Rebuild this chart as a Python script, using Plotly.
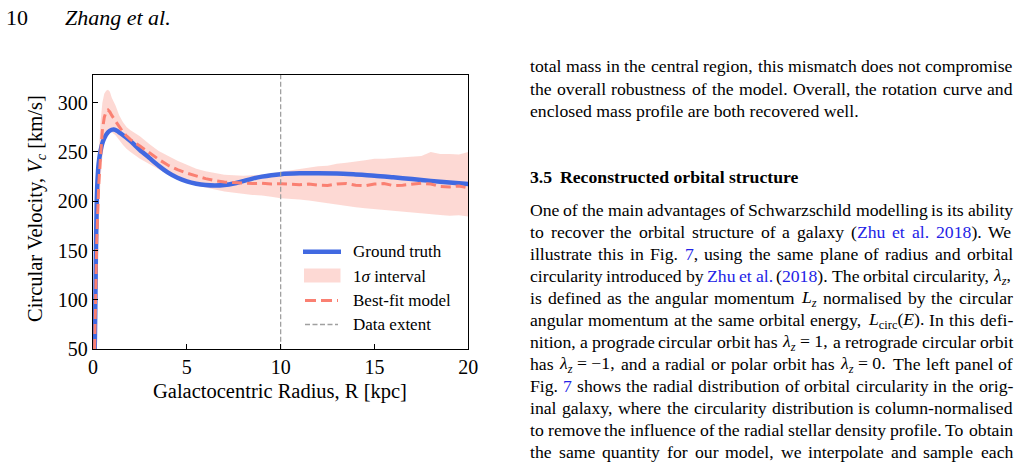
import re
import plotly.graph_objects as go

# ---------------- data ----------------
R_truth = [0.0, 0.05, 0.1, 0.15, 0.2, 0.25, 0.3, 0.4, 0.5, 0.6, 0.8, 1.0, 1.1, 1.2, 1.5,
           2.0, 2.5, 3.0, 3.5, 4.0, 4.5, 5.0, 5.5, 6.0, 6.5, 7.0, 7.5, 8.0, 8.5, 9.0, 9.5,
           10.0, 11.0, 12.0, 13.0, 14.0, 15.0, 16.0, 17.0, 18.0, 19.0, 20.0]
V_truth = [0, 30, 60, 140, 200, 225, 238, 251, 259, 264, 270, 272.5, 272.8, 272.3, 268.5,
           261, 252, 244, 236, 229, 223.8, 220.2, 217.8, 216.4, 215.9, 216.4, 218, 220.5, 223,
           225, 226.5, 227.5, 228.3, 228.5, 228.2, 227.2, 226, 224.3, 222.5, 220.7, 219, 217.5]

R_fit = [0.05, 0.1, 0.15, 0.2, 0.3, 0.4, 0.5, 0.6, 0.7, 0.8, 0.9, 1.0, 1.2, 1.4, 1.6, 1.8,
         2.0, 2.5, 3.0, 3.5, 4.0, 4.5, 5.0, 5.5, 6.0, 6.5, 7.0, 7.5, 8.0, 8.5, 9.0, 9.5,
         10.0, 10.5, 11.0, 11.5, 12.0, 12.5, 13.0, 13.5, 14.0, 14.5, 15.0, 15.5, 16.0, 16.5,
         17.0, 17.5, 18.0, 18.5, 19.0, 19.5, 20.0]
V_fit = [20, 55, 110, 160, 215, 245, 272, 285, 291, 292.5, 290.5, 287, 281, 275, 270, 266,
         262.5, 256, 249, 242.5, 236.5, 232, 228.5, 225.5, 223, 221, 219.5, 219, 218.5, 218,
         218.3, 217.5, 217.8, 217, 216.8, 217.5, 216.3, 216, 217.5, 218, 216.3, 215.8,
         217.5, 218, 216, 216.3, 217.2, 218.3, 217.5, 215, 214.5, 215.5, 213.5]
V_upper = [30, 70, 130, 185, 245, 280, 300, 309, 312, 313, 311, 305, 297, 287, 280, 275,
           272, 266, 258, 251, 246, 241, 237, 233, 230.5, 229, 227, 226.5, 226, 226.5,
           227, 228.5, 230, 231.5, 233, 234, 235.5, 236, 238, 239, 240, 241.5, 243, 243,
           244, 244.5, 245, 246, 250, 248, 248, 247.5, 250]
V_lower = [10, 40, 90, 135, 185, 222, 245, 259, 266, 269, 270, 270, 267, 262, 257, 253,
           250, 243, 238, 232.5, 227, 223, 219.5, 216, 214, 212, 210, 209, 207.5, 206.5,
           206, 204.5, 203, 202.5, 201.8, 200.8, 199.5, 198.3, 197, 195.5, 194, 193,
           192, 191, 190, 189.3, 188.5, 187.5, 186.8, 186, 185.3, 185.8, 184.5]

DATA_EXTENT_R = 10
X_RANGE = [0, 20]
Y_RANGE = [50, 328]
X_TICKS = [0, 5, 10, 15, 20]
Y_TICKS = [50, 100, 150, 200, 250, 300]
X_TITLE = "Galactocentric Radius, R [kpc]"
Y_TITLE = "Circular Velocity, <i>V</i><sub><i>c</i></sub> [km/s]"
LEGEND_LABELS = ["Ground truth", "1<i>σ</i> interval", "Best-fit model", "Data extent"]

BLUE = "rgb(65,105,225)"
SALMON = "rgb(250,128,114)"
BAND = "rgba(250,128,114,0.3)"
GREY = "rgb(160,160,160)"
LINK = "#2323e6"
FONT = "Liberation Serif"

W, H = 1024, 465
def px(x):
    return x / W
def py(y):
    return 1 - y / H

# ---------------- chart ----------------
fig = go.Figure()
fig.add_trace(go.Scatter(x=R_fit + R_fit[::-1], y=V_upper + V_lower[::-1], fill="toself",
                         fillcolor=BAND, line=dict(width=0), mode="lines", hoverinfo="skip"))
fig.add_trace(go.Scatter(x=R_truth, y=V_truth, mode="lines",
                         line=dict(color=BLUE, width=4.5, shape="spline", smoothing=0.8)))
fig.add_trace(go.Scatter(x=R_fit, y=V_fit, mode="lines",
                         line=dict(color=SALMON, width=3, dash="10px,5px")))
fig.add_trace(go.Scatter(x=[DATA_EXTENT_R, DATA_EXTENT_R], y=Y_RANGE, mode="lines",
                         line=dict(color=GREY, width=1.3, dash="5px,2.5px")))

axis_common = dict(ticks="inside", ticklen=5, tickwidth=1.2, tickcolor="black",
                   showline=True, linecolor="black", linewidth=1.3, mirror=True,
                   showgrid=False, zeroline=False, automargin=False,
                   tickfont=dict(family=FONT, size=20, color="black"))
fig.update_xaxes(domain=[93 / W, 468.3 / W], range=X_RANGE, tickvals=X_TICKS, **axis_common)
fig.update_yaxes(domain=[(H - 349.3) / H, (H - 75) / H], range=Y_RANGE, tickvals=Y_TICKS,
                 **axis_common)

annotations = []
shapes = []

def add_text(x, y, text, size, xanchor="left", yanchor="middle", angle=0, color="black",
             weight="normal", style="normal"):
    annotations.append(dict(x=px(x), y=py(y), xref="paper", yref="paper", text=text,
                            showarrow=False, xanchor=xanchor, yanchor=yanchor,
                            textangle=angle, borderpad=0, borderwidth=0,
                            font=dict(family=FONT, size=size, color=color,
                                      weight=weight, style=style)))

# axis titles
add_text(280, 391, X_TITLE, 20.5, xanchor="center")
add_text(36, 209, Y_TITLE, 20.5, xanchor="center", angle=-90)

# legend (drawn inside the axes, bottom right)
LEG_X0, LEG_X1, LEG_TX = 303, 341, 353
leg_rows = [251.7, 276.3, 300.5, 324.5]
shapes.append(dict(type="line", xref="paper", yref="paper", x0=px(LEG_X0), x1=px(LEG_X1),
                   y0=py(leg_rows[0]), y1=py(leg_rows[0]), line=dict(color=BLUE, width=4.5)))
shapes.append(dict(type="rect", xref="paper", yref="paper", x0=px(304), x1=px(340.5),
                   y0=py(268.5), y1=py(282.5), fillcolor=BAND, line=dict(width=0)))
shapes.append(dict(type="line", xref="paper", yref="paper", x0=px(LEG_X0 + 2), x1=px(LEG_X1 - 3),
                   y0=py(leg_rows[2]), y1=py(leg_rows[2]),
                   line=dict(color=SALMON, width=3, dash="11px,5px")))
shapes.append(dict(type="line", xref="paper", yref="paper", x0=px(LEG_X0 + 2), x1=px(LEG_X1 - 3),
                   y0=py(leg_rows[3]), y1=py(leg_rows[3]),
                   line=dict(color=GREY, width=1.3, dash="5px,2.5px")))
for lab, yy in zip(LEGEND_LABELS, leg_rows):
    add_text(LEG_TX, yy, lab, 17)

# ---------------- page text ----------------
TW = {' ': 250, '!': 333, '"': 408, '#': 500, '$': 500, '%': 833, '&': 778, "'": 333,
      '(': 333, ')': 333, '*': 500, '+': 564, ',': 250, '-': 333, '.': 250, '/': 278,
      ':': 278, ';': 278, '<': 564, '=': 564, '>': 564, '?': 444, '@': 921,
      'A': 722, 'B': 667, 'C': 667, 'D': 722, 'E': 611, 'F': 556, 'G': 722, 'H': 722,
      'I': 333, 'J': 389, 'K': 722, 'L': 611, 'M': 889, 'N': 722, 'O': 722, 'P': 556,
      'Q': 722, 'R': 667, 'S': 556, 'T': 611, 'U': 722, 'V': 722, 'W': 944, 'X': 722,
      'Y': 722, 'Z': 611, '[': 333, ']': 333, 'a': 444, 'b': 500, 'c': 444, 'd': 500,
      'e': 444, 'f': 333, 'g': 500, 'h': 500, 'i': 278, 'j': 278, 'k': 500, 'l': 278,
      'm': 778, 'n': 500, 'o': 500, 'p': 500, 'q': 500, 'r': 333, 's': 389, 't': 278,
      'u': 500, 'v': 500, 'w': 722, 'x': 500, 'y': 500, 'z': 444, 'λ': 550, 'σ': 550,
      '−': 564}
for d in "0123456789":
    TW[d] = 500

def text_width(html, size):
    w, scale = 0.0, 1.0
    for part in re.split(r'(<[^>]+>)', html):
        if part.startswith('<'):
            if part.startswith('<sub'):
                scale = 0.7
            elif part.startswith('</sub'):
                scale = 1.0
            continue
        for ch in part:
            w += TW.get(ch, 500) * scale
    return w / 1000.0 * size

LZ = '<i>λ</i><sub><i>z</i></sub>'

def markup(tok):
    """Return (html, colour) for one word of the body text."""
    if tok.startswith('{') and tok.endswith('}') and tok.count('{') == 1:
        return tok[1:-1], LINK
    tok = tok.replace('LZ', LZ).replace('~', ' ')
    tok = tok.replace('{', '<span style="color:%s">' % LINK).replace('}', '</span>')
    return tok, "black"

BODY = 17.7
X_L, X_R = 530, 1013

def set_line(line, yc, justify=True):
    toks = [markup(t) for t in line.split(' ')]
    if not justify:
        add_text(X_L, yc, ' '.join(t for t, _ in toks), BODY)
        return
    widths = [text_width(t, BODY) for t, _ in toks]
    gap = (X_R - X_L - sum(widths)) / (len(toks) - 1)
    x = X_L
    for (t, c), w in zip(toks, widths):
        add_text(x, yc, t, BODY, color=c)
        x += w + gap

top_lines = [
    ("total mass in the central region, this mismatch does not compromise", True),
    ("the overall robustness of the model. Overall, the rotation curve and", True),
    ("enclosed mass profile are both recovered well.", False),
]
for i, (ln, j) in enumerate(top_lines):
    set_line(ln, 66.3 + 22.3 * i, j)

add_text(530, 177.3, "3.5", BODY, weight="bold")
add_text(560, 177.3, "Reconstructed orbital structure", BODY, weight="bold")

para = [
    "One of the main advantages of Schwarzschild modelling is its ability",
    "to recover the orbital structure of a galaxy ({Zhu} {et} {al.} {2018}). We",
    "illustrate this in Fig. {7}, using the same plane of radius and orbital",
    "circularity introduced by {Zhu} {et} {al.} ({2018}). The orbital circularity, LZ,",
    "is defined as the angular momentum <i>L</i><sub><i>z</i></sub> normalised by the circular",
    "angular momentum at the same orbital energy, <i>L</i><sub>circ</sub>(<i>E</i>). In this defi-",
    "nition, a prograde circular orbit has LZ~=~1, a retrograde circular orbit",
    "has LZ~=~−1, and a radial or polar orbit has LZ~=~0. The left panel of",
    "Fig. {7} shows the radial distribution of orbital circularity in the orig-",
    "inal galaxy, where the circularity distribution is column-normalised",
    "to remove the influence of the radial stellar density profile. To obtain",
    "the same quantity for our model, we interpolate and sample each",
]
for i, ln in enumerate(para):
    set_line(ln, 210.0 + 22.0 * i, True)

# running head
add_text(6, 17.0, "10", 22)
add_text(65, 17.0, "Zhang et al.", 22, style="italic")

fig.update_layout(width=W, height=H, margin=dict(l=0, r=0, t=0, b=0, pad=0),
                  paper_bgcolor="white", plot_bgcolor="white", showlegend=False,
                  font=dict(family=FONT, color="black"),
                  annotations=annotations, shapes=shapes)

fig.write_html("out.html")
